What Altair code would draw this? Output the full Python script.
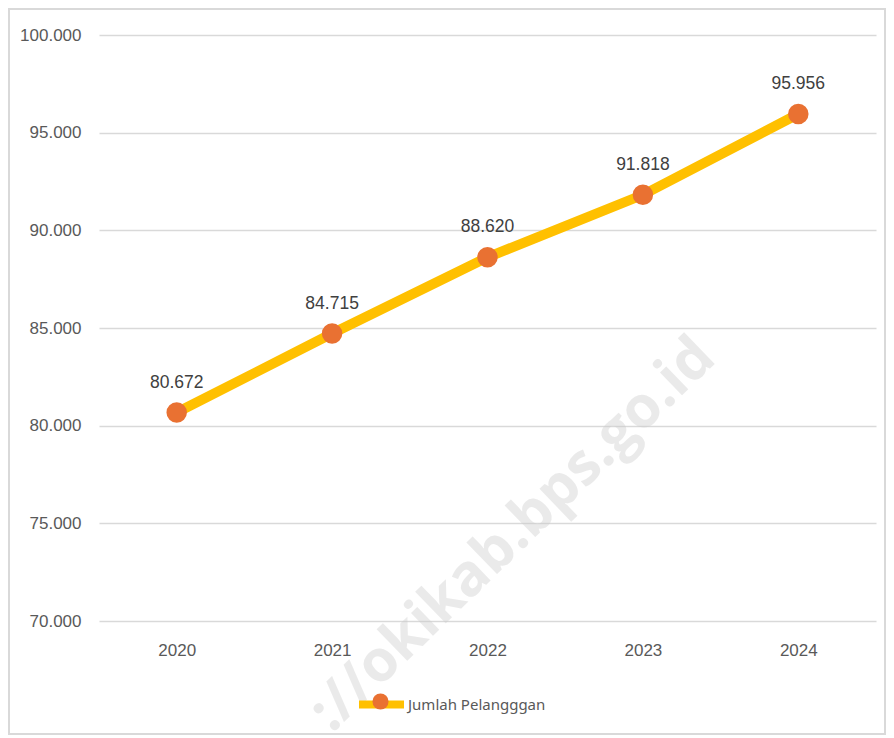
import altair as alt
import pandas as pd

years = ["2020", "2021", "2022", "2023", "2024"]
values = [80672, 84715, 88620, 91818, 95956]
labels = ["80.672", "84.715", "88.620", "91.818", "95.956"]
series = "Jumlah Pelangggan"
watermark = "://okikab.bps.go.id"

df = pd.DataFrame({"year": years, "value": values, "label": labels, "series": [series] * len(years)})

FONT = "Liberation Sans"

x = alt.X("year:N", title=None, sort=years,
          scale=alt.Scale(paddingInner=0, paddingOuter=0.5),
          axis=alt.Axis(labelAngle=0, ticks=False, domain=False, labelPadding=21,
                        labelFontSize=17, labelColor="#595959", labelFont=FONT, grid=False))
y = alt.Y("value:Q", title=None,
          scale=alt.Scale(domain=[70000, 100000], nice=False, zero=False),
          axis=alt.Axis(values=[70000, 75000, 80000, 85000, 90000, 95000, 100000],
                        labelExpr="replace(format(datum.value, ',.0f'), ',', '.')",
                        ticks=False, domain=False, labelPadding=18, labelFontSize=17,
                        labelColor="#595959", labelFont=FONT,
                        gridColor="#d9d9d9", gridWidth=1.5))

base = alt.Chart(df)

border = alt.Chart(pd.DataFrame({"b": [0]})).mark_rect(
    fillOpacity=0, stroke="#d9d9d9", strokeWidth=2
).encode(x=alt.value(-90), x2=alt.value(786), y=alt.value(-26), y2=alt.value(699))

wm = alt.Chart(pd.DataFrame({"t": [watermark]})).mark_text(
    angle=316, fontSize=58, fontWeight="bold", font="Open Sans", color="#cccccc", opacity=0.4
).encode(text="t:N", x=alt.value(414), y=alt.value(500))

line = base.mark_line(strokeWidth=10, strokeCap="round").encode(
    x=x, y=y,
    stroke=alt.Stroke("series:N", scale=alt.Scale(range=["#FFC000"]),
                      legend=alt.Legend(title=None, orient="none", legendX=256, legendY=643,
                                        symbolType="stroke", symbolSize=2025, symbolStrokeWidth=8,
                                        labelFontSize=15, labelColor="#595959", labelFont="Noto Sans",
                                        labelOffset=0))
)

points = base.mark_point(filled=True, size=420, opacity=1, shape="circle").encode(
    x=x, y=y,
    fill=alt.Fill("series:N", scale=alt.Scale(range=["#E97132"]),
                  legend=alt.Legend(title=None, orient="none", legendX=273, legendY=658,
                                    symbolType="circle", symbolSize=260, symbolStrokeWidth=0,
                                    labelExpr="''", symbolOpacity=1))
)

text = base.mark_text(dy=-30, fontSize=17.5, color="#404040", font=FONT).encode(
    x=x, y=y, text="label:N"
)

chart = alt.layer(border, wm, line, points, text).resolve_scale(
    stroke="independent", fill="independent"
).properties(
    width=777, height=586,
    autosize=alt.AutoSizeParams(type="none"),
    padding={"left": 91, "top": 27, "right": 10, "bottom": 115}
).configure_view(stroke=None)

chart.save("out.html", embed_options={"renderer": "svg", "actions": False})
